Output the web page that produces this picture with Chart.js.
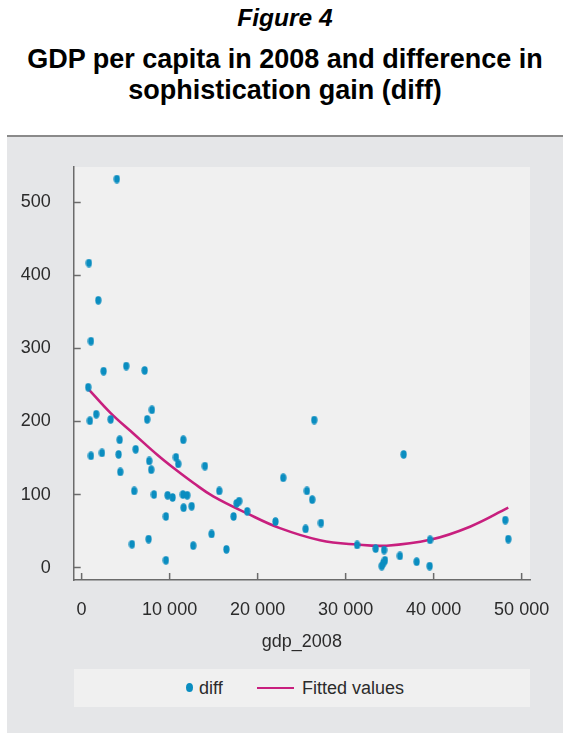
<!DOCTYPE html>
<html>
<head>
<meta charset="utf-8">
<script src="https://cdn.jsdelivr.net/npm/chart.js@4.4.1/dist/chart.umd.min.js"></script>
<style>
  body { margin: 0; width: 563px; height: 733px; background: #fff; position: relative; overflow: hidden; font-family: 'Liberation Sans', Arial, sans-serif; color: #2b2b2b; }
  .fig-label { position: absolute; left: 7px; width: 556px; top: 4px; text-align: center; font: italic bold 24.5px/28px 'Liberation Sans', Arial, sans-serif; color: #000; }
  .fig-title { position: absolute; left: 7px; width: 556px; top: 44px; text-align: center; font: bold 27px/31px 'Liberation Sans', Arial, sans-serif; color: #000; }
  .panel { position: absolute; left: 7px; top: 135px; right: 0; bottom: 0; background: #e5e6e8; border-top: 2px solid #8a8a8a; }
  #chart { position: absolute; left: 0; top: 137px; }
  .legend { position: absolute; left: 74px; top: 669px; width: 456px; height: 38px; background: #f0f0f0; font-size: 18px; line-height: 38px; }
  .legend span { position: absolute; top: 0; }
  .legend .dot { top: 14px; width: 7px; height: 9px; border-radius: 50%; }
  .legend .bar { top: 17.5px; width: 37px; height: 2.5px; }
</style>
</head>
<body>
<div class="fig-label">Figure 4</div>
<div class="fig-title">GDP per capita in 2008 and difference in<br>sophistication gain (diff)</div>
<div class="panel"></div>
<canvas id="chart" width="563" height="530"></canvas>
<div class="legend" id="legend"></div>
<script>
// scatter: gdp_2008 vs diff
const gdpValues = [
  4000, 830, 1890, 1060, 2500, 5070, 7160, 750, 940, 1660,
  3300, 7450, 7990, 1060, 2310, 4320, 4200, 4390, 6140, 7680,
  7910, 5980, 8220, 9770, 10340, 10720, 10980, 11550, 11510, 12000,
  11590, 12500, 5720, 7610, 9580, 9580, 12680, 14010, 14770, 15640,
  16450, 17270, 17610, 17900, 18820, 22030, 22910, 25600, 25450, 26200,
  26430, 27200, 31300, 33410, 34370, 34470, 34270, 34100, 36170, 36590,
  38070, 39550, 39590, 48140, 48480,
];
const diffValues = [
  532, 417, 366, 310, 269, 276, 270, 247, 201, 210,
  203, 203, 216, 153, 157, 175, 155, 131, 162, 146,
  134, 105, 100, 99, 96, 151, 142, 175, 100, 99,
  82, 84, 32, 39, 70, 10, 30, 139, 46, 105,
  25, 70, 88, 91, 77, 63, 123, 105, 53, 93,
  202, 61, 31, 26, 24, 10, 6, 2, 16, 155,
  8, 2, 38, 65, 39,
];

// fitted values line, sampled along the drawn curve
const fitGdp = [800, 3300, 5940, 8590, 10490, 12760, 14960, 18750, 22530, 27080, 31320, 34660, 39580, 44130, 48480];
const fitValues = [244, 211.5, 183, 154.5, 136, 115.5, 97.5, 74.5, 54, 37.5, 31.5, 30, 38, 56, 82];

const xTicks = [0, 10000, 20000, 30000, 40000, 50000];
const yTicks = [0, 100, 200, 300, 400, 500];

const dotColor = '#0a8dc0';
const lineColor = '#c81f7e';
const axisColor = '#6b6b6b';
const fontFamily = "'Liberation Sans', Arial, sans-serif";

const makeDot = () => {
  const c = document.createElement('canvas');
  c.width = 7;
  c.height = 9;
  const g = c.getContext('2d');
  g.fillStyle = dotColor;
  g.beginPath();
  g.ellipse(3.5, 4.5, 3.1, 4.2, 0, 0, Math.PI * 2);
  g.fill();
  return c;
};

const withSpaces = (v) => String(v).replace(/\B(?=(\d{3})+(?!\d))/g, ' ');

const plotBackground = {
  id: 'plotBackground',
  beforeDraw(chart) {
    const { ctx, chartArea } = chart;
    ctx.save();
    ctx.fillStyle = '#f0f0f0';
    ctx.fillRect(chartArea.left, chartArea.top, chartArea.right - chartArea.left, chartArea.bottom - chartArea.top);
    ctx.restore();
  },
};

// stata style ticks pointing into the plot
const inwardTicks = {
  id: 'inwardTicks',
  beforeDatasetsDraw(chart) {
    const { ctx, chartArea, scales: { x, y } } = chart;
    ctx.save();
    ctx.strokeStyle = axisColor;
    ctx.lineWidth = 1.5;
    ctx.beginPath();
    xTicks.forEach((v) => {
      const px = x.getPixelForValue(v);
      ctx.moveTo(px, chartArea.bottom);
      ctx.lineTo(px, chartArea.bottom - 7);
    });
    yTicks.forEach((v) => {
      const py = y.getPixelForValue(v);
      ctx.moveTo(chartArea.left, py);
      ctx.lineTo(chartArea.left + 7, py);
    });
    ctx.stroke();
    ctx.restore();
  },
};

const datasets = [
  {
    label: 'diff',
    data: gdpValues.map((g, i) => ({ x: g, y: diffValues[i] })),
    pointStyle: makeDot(),
    backgroundColor: dotColor,
    borderColor: dotColor,
  },
  {
    label: 'Fitted values',
    type: 'line',
    data: fitGdp.map((g, i) => ({ x: g, y: fitValues[i] })),
    borderColor: lineColor,
    backgroundColor: lineColor,
    borderWidth: 2.6,
    pointRadius: 0,
    tension: 0.4,
    fill: false,
  },
];

new Chart(document.getElementById('chart'), {
  type: 'scatter',
  data: { datasets },
  options: {
    responsive: false,
    animation: false,
    layout: { padding: { left: 13.7, right: 33, top: 30, bottom: 0 } },
    plugins: { legend: { display: false }, tooltip: { enabled: false } },
    scales: {
      x: {
        type: 'linear',
        min: -900,
        max: 50950,
        grid: { display: false },
        border: { display: true, color: axisColor, width: 1.5 },
        afterBuildTicks: (scale) => { scale.ticks = xTicks.map((value) => ({ value })); },
        afterFit: (scale) => { scale.height = 87; },
        ticks: {
          padding: 11,
          color: '#2b2b2b',
          font: { family: fontFamily, size: 18 },
          callback: (v) => withSpaces(v),
        },
        title: {
          display: true,
          text: 'gdp_2008',
          color: '#2b2b2b',
          font: { family: fontFamily, size: 18 },
          padding: { top: 0, bottom: 14.5 },
        },
      },
      y: {
        type: 'linear',
        min: -17,
        max: 548.5,
        grid: { display: false },
        border: { display: true, color: axisColor, width: 1.5 },
        afterBuildTicks: (scale) => { scale.ticks = yTicks.map((value) => ({ value })); },
        afterFit: (scale) => { scale.width = 60; },
        ticks: {
          padding: 15,
          color: '#2b2b2b',
          font: { family: fontFamily, size: 18 },
        },
      },
    },
  },
  plugins: [plotBackground, inwardTicks],
});

// legend box under the plot, built from the datasets
const legend = document.getElementById('legend');
legend.innerHTML = `
  <span class="dot" style="left:112px;background:${datasets[0].borderColor}"></span>
  <span style="left:125px">${datasets[0].label}</span>
  <span class="bar" style="left:183px;background:${datasets[1].borderColor}"></span>
  <span style="left:228px">${datasets[1].label}</span>
`;
</script>
</body>
</html>
